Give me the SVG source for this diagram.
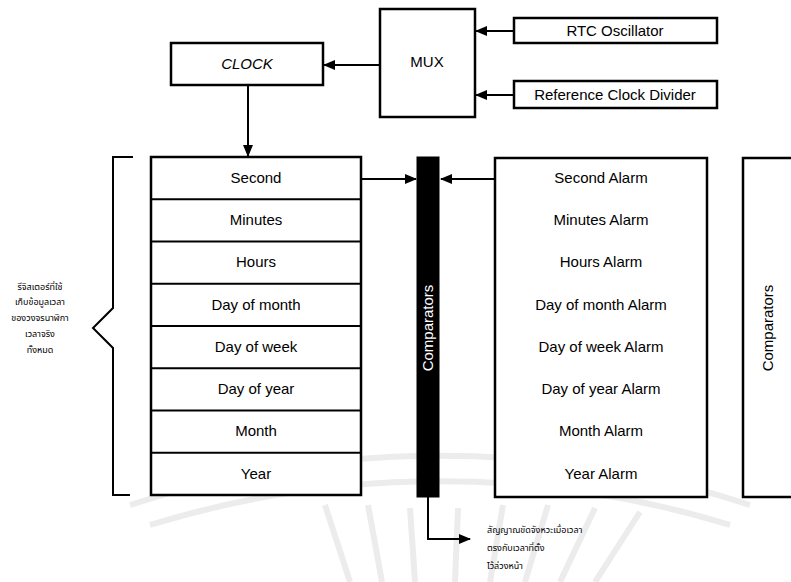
<svg xmlns="http://www.w3.org/2000/svg" width="791" height="582" viewBox="0 0 791 582">
<defs>
<marker id="ah" markerWidth="12" markerHeight="10" refX="11" refY="5" orient="auto" markerUnits="userSpaceOnUse">
<path d="M0,0 L12,5 L0,10 Z" fill="#000"/>
</marker>
<style>
.box{fill:#fff;stroke:#000;stroke-width:2.5}
.ln{fill:none;stroke:#000;stroke-width:2}
.t{font-family:"Liberation Sans",Arial,sans-serif;font-size:15px;fill:#000;text-anchor:middle}
.th{font-family:"Noto Sans Thai","Noto Sans","DejaVu Sans",sans-serif;font-size:9px;fill:#000}
.wm{fill:none;stroke:#ececec;stroke-width:6}
</style>
</defs>
<rect width="791" height="582" fill="#fff"/>
<g id="watermark">
<path class="wm" d="M130,505 A1000,1000 0 0 1 750,505"/>
<path class="wm" d="M150,525 A985,985 0 0 1 730,525"/>
<path class="wm" stroke-width="4" d="M350,582 L325,505 M382,582 L368,505 M415,582 L410,508 M455,582 L458,508 M490,582 L503,505 M525,582 L548,505 M560,582 L595,508 M595,582 L640,512"/>
</g>
<g id="connectors">
<line class="ln" x1="514" y1="31" x2="476" y2="31" marker-end="url(#ah)"/>
<line class="ln" x1="514" y1="95" x2="476" y2="95" marker-end="url(#ah)"/>
<line class="ln" x1="380" y1="65" x2="324" y2="65" marker-end="url(#ah)"/>
<line class="ln" x1="248" y1="85" x2="248" y2="156" marker-end="url(#ah)"/>
<line class="ln" x1="362" y1="179" x2="416" y2="179" marker-end="url(#ah)"/>
<line class="ln" x1="494" y1="179" x2="441" y2="179" marker-end="url(#ah)"/>
<polyline class="ln" points="428,497 428,539 470,539" marker-end="url(#ah)"/>
</g>
<g id="mux">
<rect class="box" x="380" y="9" width="95" height="108"/>
<text class="t" x="427" y="67">MUX</text>
</g>
<g id="clock">
<rect class="box" x="171" y="43" width="152" height="42"/>
<text class="t" x="247" y="69" font-style="italic">CLOCK</text>
</g>
<g id="rtc">
<rect class="box" x="514" y="18" width="203" height="25"/>
<text class="t" x="615" y="36">RTC Oscillator</text>
</g>
<g id="refdiv">
<rect class="box" x="514" y="81" width="203" height="27"/>
<text class="t" x="615" y="100">Reference Clock Divider</text>
</g>
<g id="bracket">
<path class="ln" stroke-width="2.5" d="M133,157 H113 V308 L93,328 L113,348 V495 H130"/>
<text class="th" text-anchor="middle"><tspan x="40" y="290">รีจิสเตอร์ที่ใช้</tspan><tspan x="40" y="305">เก็บข้อมูลเวลา</tspan><tspan x="40" y="321">ของวงจรนาฬิกา</tspan><tspan x="40" y="337">เวลาจริง</tspan><tspan x="40" y="353">ทั้งหมด</tspan></text>
</g>
<g id="time-registers">
<rect class="box" x="151" y="157" width="210" height="338"/>
<path class="ln" stroke-width="2.5" d="M151,199.25 H361 M151,241.5 H361 M151,283.75 H361 M151,326 H361 M151,368.25 H361 M151,410.5 H361 M151,452.75 H361"/>
<text class="t" x="256" y="183">Second</text>
<text class="t" x="256" y="225">Minutes</text>
<text class="t" x="256" y="267">Hours</text>
<text class="t" x="256" y="310">Day of month</text>
<text class="t" x="256" y="352">Day of week</text>
<text class="t" x="256" y="394">Day of year</text>
<text class="t" x="256" y="436">Month</text>
<text class="t" x="256" y="479">Year</text>
</g>
<g id="comparator-bar">
<rect x="417" y="157" width="22" height="340" fill="#000" stroke="#000" stroke-width="1"/>
<text class="t" style="fill:#fff" transform="translate(433,328) rotate(-90)">Comparators</text>
</g>
<g id="alarm-registers">
<rect class="box" x="495" y="158" width="212" height="339"/>
<text class="t" x="601" y="183">Second Alarm</text>
<text class="t" x="601" y="225">Minutes Alarm</text>
<text class="t" x="601" y="267">Hours Alarm</text>
<text class="t" x="601" y="310">Day of month Alarm</text>
<text class="t" x="601" y="352">Day of week Alarm</text>
<text class="t" x="601" y="394">Day of year Alarm</text>
<text class="t" x="601" y="436">Month Alarm</text>
<text class="t" x="601" y="479">Year Alarm</text>
</g>
<g id="comparators-right">
<rect class="box" x="743" y="158" width="60" height="339"/>
<text class="t" transform="translate(773,328) rotate(-90)">Comparators</text>
</g>
<g id="output-note">
<text class="th"><tspan x="487" y="533">สัญญาณขัดจังหวะเมื่อเวลา</tspan><tspan x="487" y="551">ตรงกับเวลาที่ตั้ง</tspan><tspan x="487" y="569">ไว้ล่วงหน้า</tspan></text>
</g>
</svg>
